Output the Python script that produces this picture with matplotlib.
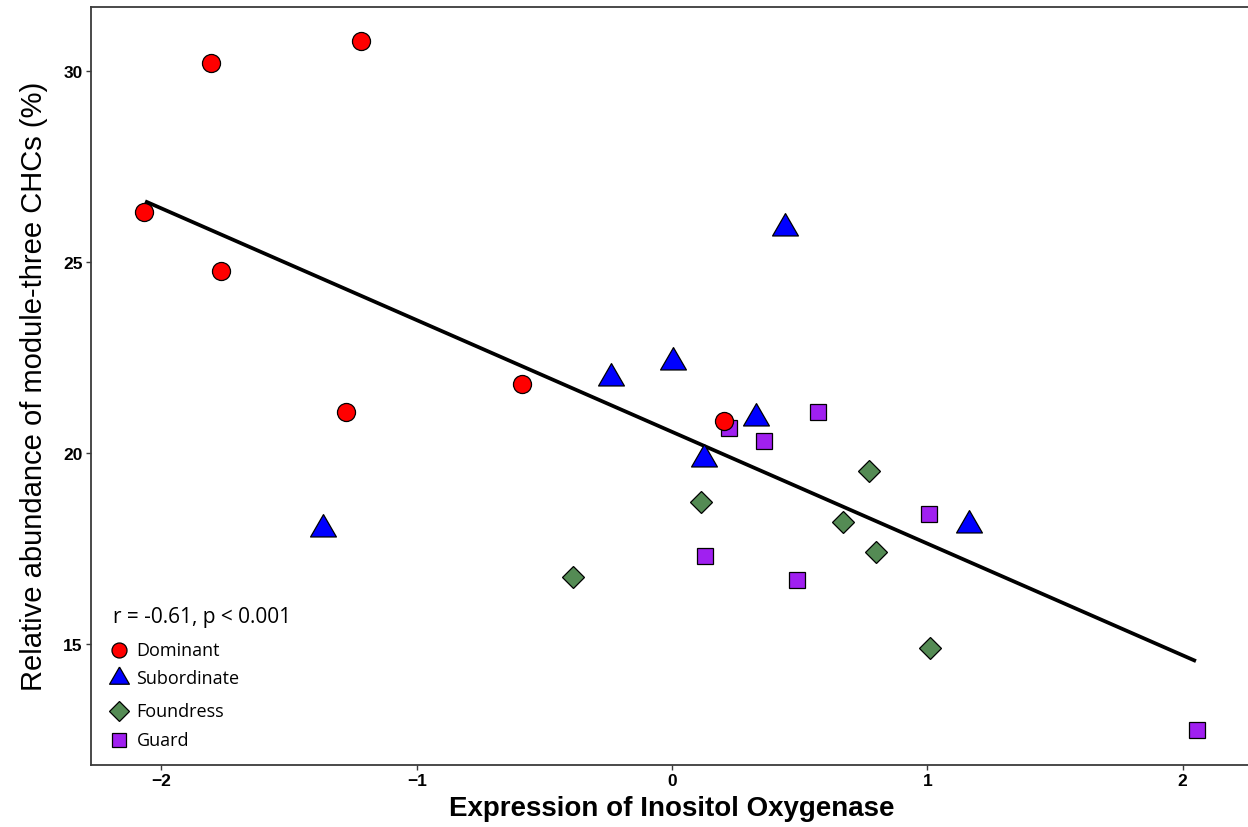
import matplotlib
matplotlib.use("Agg")
import matplotlib.pyplot as plt
import numpy as np

# expression (x) vs relative abundance (y), one pair of lists per caste
dominant_x = [-2.069, -1.806, -1.217, -1.767, -1.276, -0.586, 0.205]
dominant_y = [26.32, 30.22, 30.79, 24.77, 21.07, 21.80, 20.84]

subordinate_x = [-1.366, -0.240, 0.003, 0.441, 0.329, 0.125, 1.162]
subordinate_y = [18.01, 21.96, 22.40, 25.90, 20.92, 19.86, 18.11]

foundress_x = [-0.389, 0.112, 0.773, 0.670, 0.800, 1.010]
foundress_y = [16.76, 18.72, 19.54, 18.19, 17.42, 14.89]

guard_x = [0.222, 0.362, 0.573, 0.129, 0.488, 1.005, 2.055]
guard_y = [20.65, 20.32, 21.07, 17.31, 16.68, 18.42, 12.75]

# fitted trend line
fit_intercept = 20.56
fit_slope = -2.925
fit_x_range = [-2.064, 2.052]

stat_text = "r = -0.61, p < 0.001"
group_names = ["Dominant", "Subordinate", "Foundress", "Guard"]

# R-style filled triangle (pch 24), centred on its centroid
r_triangle = [(0, 1.5551), (1.3468, -0.7776), (-1.3468, -0.7776), (0, 1.5551)]

styles = {
    "Dominant":    dict(marker="o", color="#FF0000", ms=13.0, leg_ms=10.8),
    "Subordinate": dict(marker=r_triangle, color="#0000FF", ms=21.5, leg_ms=16.5),
    "Foundress":   dict(marker="D", color="#548B54", ms=11.6, leg_ms=10.0),
    "Guard":       dict(marker="s", color="#A020F0", ms=12.2, leg_ms=10.0),
}
groups = {
    "Dominant": (dominant_x, dominant_y),
    "Subordinate": (subordinate_x, subordinate_y),
    "Foundress": (foundress_x, foundress_y),
    "Guard": (guard_x, guard_y),
}

fig = plt.figure(figsize=(12.48, 8.28), dpi=100)
# panel runs a little past the right edge of the canvas
ax = fig.add_axes([0.0731, 0.0754, 0.9300, 0.9153])

# trend line under the points
line_x = np.array(fit_x_range)
ax.plot(line_x, fit_intercept + fit_slope * line_x, color="black", lw=2.7,
        solid_capstyle="butt", zorder=2)

# draw order: guard/foundress first, dominant and subordinate on top
for name in ["Guard", "Foundress", "Subordinate", "Dominant"]:
    xs, ys = groups[name]
    st = styles[name]
    ax.plot(xs, ys, linestyle="none", marker=st["marker"], ms=st["ms"],
            markerfacecolor=st["color"], markeredgecolor="black",
            markeredgewidth=0.9, zorder=3)

ax.set_xlim(-2.275, 2.271)
ax.set_ylim(11.85, 31.69)
ax.set_xticks([-2, -1, 0, 1, 2])
ax.set_xticklabels(["\u22122", "\u22121", "0", "1", "2"])
ax.set_yticks([15, 20, 25, 30])

for side in ["left", "bottom", "top", "right"]:
    ax.spines[side].set_color("#3a3a3a")
    ax.spines[side].set_linewidth(1.3)

ax.tick_params(axis="both", length=3.6, width=1.0, color="#3a3a3a", pad=2.5,
               labelsize=12.5)
for lab in ax.get_xticklabels() + ax.get_yticklabels():
    lab.set_fontweight("bold")
    lab.set_family("Liberation Sans")

ax.set_xlabel("Expression of Inositol Oxygenase", fontsize=20, fontweight="bold",
              family="Liberation Sans", labelpad=5)
ax.set_ylabel("Relative abundance of module-three CHCs (%)", fontsize=21,
              family="Liberation Sans", labelpad=11)

# correlation text and hand-placed legend, lower-left corner
ax.text(0.0188, 0.196, stat_text, transform=ax.transAxes, fontsize=15,
        family="Open Sans", va="center", ha="left")

legend_y = [0.1512, 0.1142, 0.0713, 0.0325]
for name, ly in zip(group_names, legend_y):
    st = styles[name]
    ax.plot([0.024], [ly], transform=ax.transAxes, linestyle="none",
            marker=st["marker"], ms=st["leg_ms"], markerfacecolor=st["color"],
            markeredgecolor="black", markeredgewidth=0.9, clip_on=False)
    ax.text(0.039, ly, name, transform=ax.transAxes, fontsize=13,
            family="Open Sans", va="center", ha="left")

fig.savefig("out.png", dpi=100)
